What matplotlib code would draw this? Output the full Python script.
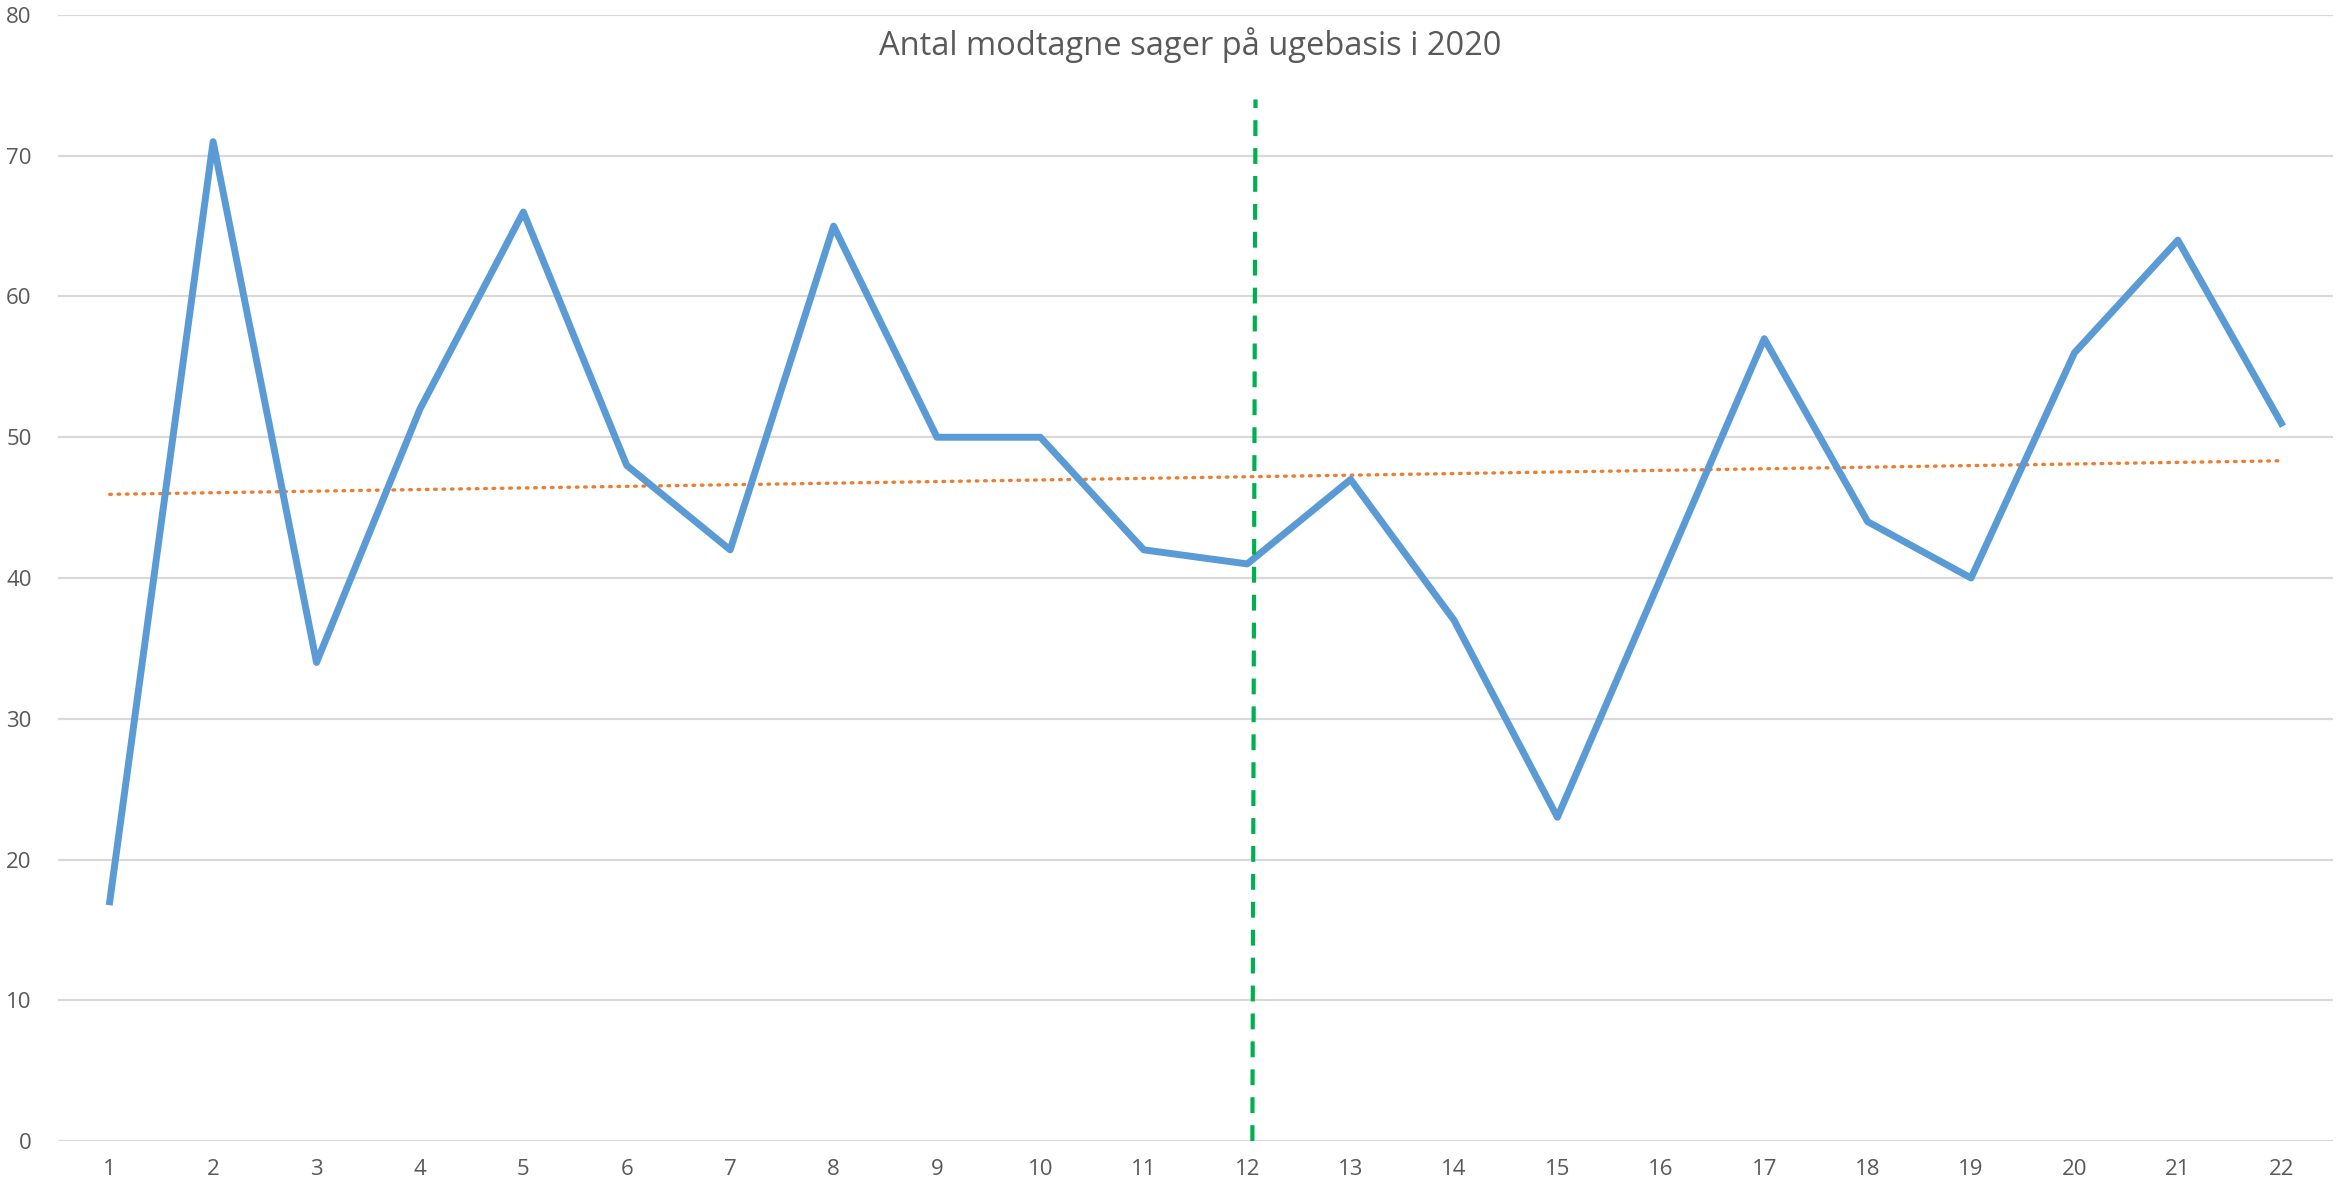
import numpy as np
import matplotlib
matplotlib.use("Agg")
import matplotlib.pyplot as plt

plt.rcParams['font.family'] = ['Open Sans', 'DejaVu Sans']

weeks = list(range(1, 23))
cases = [17, 71, 34, 52, 66, 48, 42, 65, 50, 50, 42, 41,
         47, 37, 23, 40, 57, 44, 40, 56, 64, 51]
marker_week = [12.05, 12.08]
marker_range = [0, 74]
title = "Antal modtagne sager på ugebasis i 2020"

fig = plt.figure(figsize=(23.38, 11.89), dpi=100)
ax = fig.add_axes([58 / 2338, 1 - 1141 / 1189, (2333 - 58) / 2338, (1141 - 15) / 1189])

ax.set_ylim(0, 80)
ax.set_xlim(0.5, 22.5)
ax.set_yticks(range(0, 81, 10))
ax.set_xticks(weeks)
ax.yaxis.grid(True, color='#D9D9D9', linewidth=1.6)
ax.set_axisbelow(True)
for s in ax.spines.values():
    s.set_visible(False)
ax.tick_params(length=0, labelsize=16, colors='#595959')
ax.tick_params(axis='y', pad=19)
ax.tick_params(axis='x', pad=13)

# trend line
coef = np.polyfit(weeks, cases, 1)
trend = np.polyval(coef, weeks)
ax.plot(weeks, trend, color='#ED7D31', linewidth=2.4, linestyle=(0, (0.5, 2.0)),
        dash_capstyle='round')

ax.plot(weeks, cases, color='#5B9BD5', linewidth=5, solid_joinstyle='round')

ax.plot(marker_week, marker_range, color='#00B050', linewidth=3, linestyle=(0, (3.8, 2.9)))

fig.text(1190 / 2338, 1 - 45 / 1189, title, ha='center', va='center',
         fontsize=23.5, color='#595959')

fig.savefig("out.png", dpi=100, facecolor='white')
